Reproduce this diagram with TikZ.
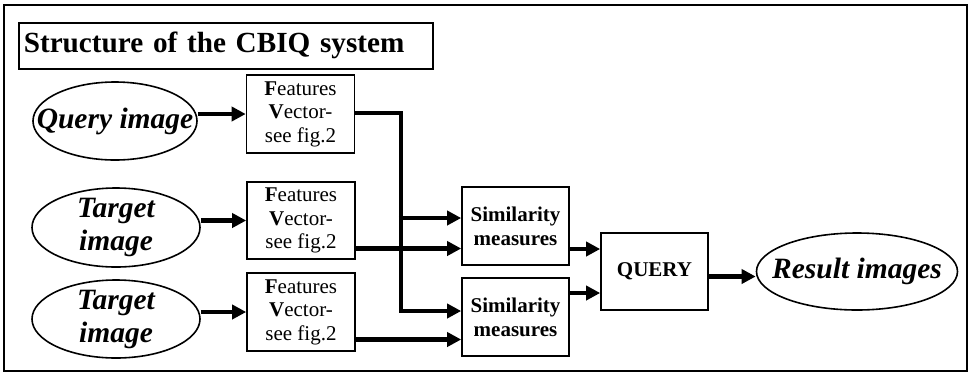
\documentclass[tikz,border=0pt]{standalone}
\usepackage{fontspec}
\setmainfont{Liberation Serif}
\usetikzlibrary{shapes.geometric,arrows.meta,calc}
\tikzset{
  box/.style={draw, line width=1.6pt, inner sep=0pt, align=center},
  oval/.style={draw, ellipse, line width=1.6pt, inner sep=0pt},
  ovaltext/.style={align=center, font=\fontsize{29.5}{33}\selectfont\bfseries\itshape},
  feat/.style={box, minimum width=108pt, minimum height=78pt,
    font=\fontsize{21}{23.5}\selectfont},
  sim/.style={box, minimum width=107pt, minimum height=78pt,
    font=\fontsize{21}{24}\selectfont\bfseries},
  arr/.style={line width=4.2pt, line join=miter,
    -{Triangle[length=14pt,width=14pt]}},
  wire/.style={line width=4.2pt, line join=miter}
}
\begin{document}
\begin{tikzpicture}[x=1pt,y=-1pt]
\useasboundingbox (0,0) rectangle (970,376);
\fill[white] (0,0) rectangle (970,376);
\draw[line width=2.2pt] (4,5) rectangle (967,371);
% title
\node[box, anchor=north west, minimum width=414pt, minimum height=46pt,
  text width=404pt, inner xsep=5pt, align=left,
  font=\fontsize{29.2}{33}\selectfont\bfseries] (title) at (18,22)
  {Structure of the CBIQ system};
% ellipses
\node[oval, minimum width=164pt, minimum height=78pt,
  label={[ovaltext]center:Query image}] (q) at (115,121) {};
\node[oval, minimum width=168pt, minimum height=79pt,
  label={[ovaltext]center:Target\\image}] (t1) at (116,227.5) {};
\node[oval, minimum width=168pt, minimum height=78pt,
  label={[ovaltext]center:Target\\image}] (t2) at (116,319) {};
% feature boxes
\node[feat] (f1) at (300.5,114) {\textbf{F}eatures\\\textbf{V}ector-\\see fig.2};
\node[feat, minimum height=77pt] (f2) at (301,220.5) {\textbf{F}eatures\\\textbf{V}ector-\\see fig.2};
\node[feat] (f3) at (301,312) {\textbf{F}eatures\\\textbf{V}ector-\\see fig.2};
% similarity
\node[sim] (s1) at (515.5,226) {Similarity\\measures};
\node[sim] (s2) at (515.5,317) {Similarity\\measures};
% query
\node[sim, minimum height=77pt] (qr) at (654.5,271.5) {QUERY};
% result
\node[oval, minimum width=201pt, minimum height=77pt,
  label={[ovaltext]center:Result images}] (r) at (857,271.5) {};
% arrows from inputs
\draw[arr] (q.east |- f1.west) -- (f1.west);
\draw[arr] (t1.east |- f2.west) -- (f2.west);
\draw[arr] (t2.east |- f3.west) -- (f3.west);
% query feature routing
\coordinate (jt) at (401,113);
\coordinate (jm) at (401,218);
\coordinate (jb) at (401,311);
\draw[wire] ([yshift=1pt]f1.east) -- (jt) -- (jm);
\draw[arr] (jt) -- (jb) -- (jb -| s2.west);
\draw[arr] ([xshift=-2.1pt]jm) -- (jm -| s1.west);
% target features
\coordinate (f2o) at ([yshift=-28pt]f2.east);
\coordinate (f3o) at ([yshift=-27.5pt]f3.east);
\draw[arr] (f2o) -- (f2o -| s1.west);
\draw[arr] (f3o) -- (f3o -| s2.west);
% similarity to query
\coordinate (s1o) at ([yshift=-23pt]s1.east);
\coordinate (s2o) at ([yshift=24pt]s2.east);
\draw[arr] (s1o) -- (s1o -| qr.west);
\draw[arr] (s2o) -- (s2o -| qr.west);
% query to result
\coordinate (qo) at ([yshift=-5pt]qr.east);
\draw[arr] (qo) -- (qo -| r.west);
\end{tikzpicture}
\end{document}
